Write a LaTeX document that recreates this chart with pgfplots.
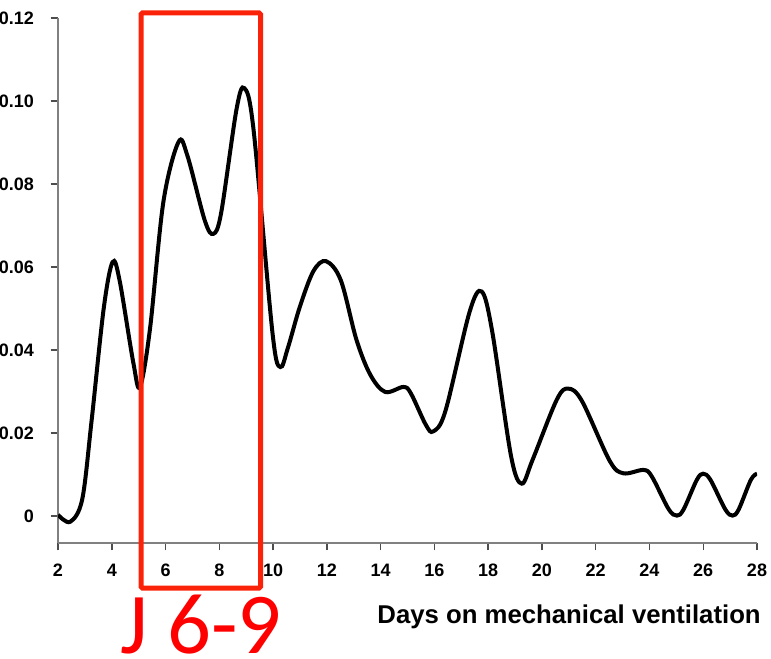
\documentclass[border=0pt]{standalone}
\usepackage{fontspec}
\setmainfont{Liberation Sans}
\newfontfamily\calibri{Carlito}
\usepackage{pgfplots}
\pgfplotsset{compat=1.18}
\definecolor{boxred}{RGB}{250,35,10}
\definecolor{axgray}{RGB}{128,128,128}

\begin{document}
\begin{tikzpicture}
\begin{axis}[
  name=ax,
  scale only axis,
  width=524.25pt, height=393.75pt,
  xmin=2, xmax=28,
  ymin=-0.0065, ymax=0.12,
  axis x line=bottom, axis y line=left,
  axis line style={-, draw=axgray, line width=1.3pt},
  tick align=outside,
  major tick length=5.5pt,
  tick style={draw=axgray!60!black, line width=1.1pt},
  xtick={2,4,6,8,10,12,14,16,18,20,22,24,26,28},
  ytick={0,0.02,0.04,0.06,0.08,0.10,0.12},
  yticklabels={0,0.02,0.04,0.06,0.08,0.10,0.12},
  /pgf/number format/assume math mode=true,
  ticklabel style={font=\bfseries\fontsize{13.5}{15}\selectfont},
  xticklabel style={yshift=-7pt},
  yticklabel style={xshift=-9pt},
  xlabel={Days on mechanical ventilation},
  xlabel style={at={(axis description cs:1.0057,0)}, anchor=base east,
    yshift=-60.5pt, inner sep=0pt, font=\bfseries\fontsize{19.3}{21}\selectfont},
]
% smoothed daily density of the event over the ventilation course
\addplot[black, line width=3pt, smooth, tension=0.55] coordinates {
  (2.00, 0.0003) (2.45,-0.0014) (2.90, 0.0040) (3.25, 0.0230)
  (3.70, 0.0500) (4.03, 0.0612) (4.29, 0.0568) (4.80, 0.0370)
  (5.05, 0.0311) (5.42, 0.0450) (5.92, 0.0757) (6.48, 0.0901)
  (6.81, 0.0869) (7.46, 0.0712) (7.78, 0.0680) (8.07, 0.0731)
  (8.64, 0.0980) (8.93, 0.1031) (9.27, 0.0933) (9.98, 0.0440)
  (10.27, 0.0359) (10.55, 0.0405) (11.00, 0.0505) (11.50, 0.0590)
  (11.97, 0.0614) (12.52, 0.0568) (13.10, 0.0425) (13.62, 0.0340)
  (14.17, 0.0299) (14.85, 0.0311) (15.13, 0.0295) (15.68, 0.0220)
  (15.96, 0.0204) (16.41, 0.0253) (17.31, 0.0492) (17.76, 0.0541)
  (18.15, 0.0445) (18.85, 0.0145) (19.25, 0.0078) (19.65, 0.0135)
  (20.55, 0.0280) (20.98, 0.0307) (21.49, 0.0277) (22.52, 0.0133)
  (23.03, 0.0103) (23.78, 0.0111) (24.09, 0.0095) (24.71, 0.0017)
  (25.02, 0.0001) (25.27, 0.0016) (25.76, 0.0087) (26.00, 0.0102)
  (26.27, 0.0087) (26.82, 0.0016) (27.09, 0.0001) (27.32, 0.0016)
  (27.77, 0.0087) (28.00, 0.0102)
};
\end{axis}
% highlighted window, days 6 to 9
\draw[boxred, line width=3.75pt, rounded corners=1pt]
  ([shift={(62.25pt,-33.75pt)}]ax.south west) rectangle
  ([shift={(151.9pt,397.5pt)}]ax.south west);
\node[anchor=base west, text=red, inner sep=0pt,
  font=\calibri\fontsize{65}{70}\selectfont]
  at ([shift={(46.5pt,-83pt)}]ax.south west) {J 6-9};
\pgfresetboundingbox
\path ([shift={(-43.5pt,-86.25pt)}]ax.south west) rectangle
      ([shift={(10.5pt,13.5pt)}]ax.north east);
\end{tikzpicture}
\end{document}
